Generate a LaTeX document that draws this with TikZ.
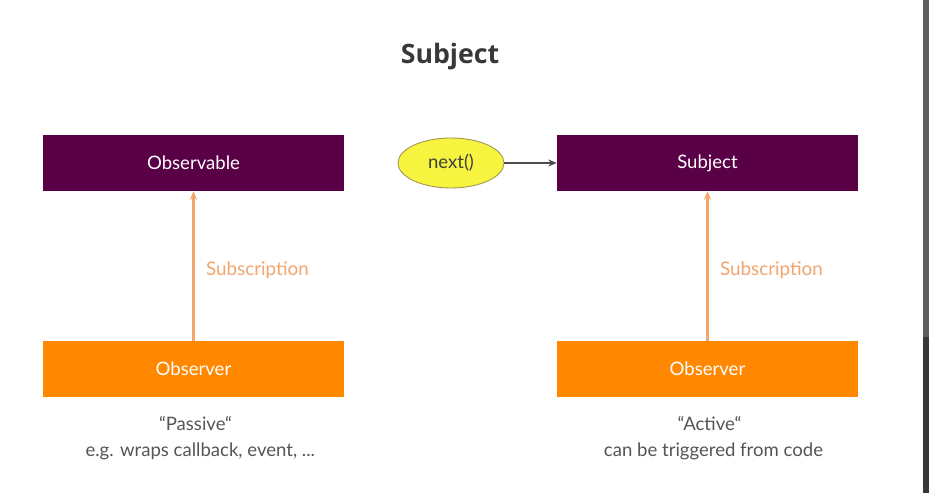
\documentclass[tikz,border=0pt]{standalone}
\usepackage{fontspec}
\setmainfont{Lato}
\newfontfamily\titlefont{Open Sans}
\usetikzlibrary{positioning,shapes.geometric,arrows.meta}
\definecolor{plum}{HTML}{5A0046}
\definecolor{tangerine}{HTML}{FF8800}
\definecolor{peach}{HTML}{F2A56E}
\definecolor{lemon}{HTML}{F6F43E}
\definecolor{olive}{HTML}{9E9250}
\definecolor{slate}{HTML}{555555}
\begin{document}
\begin{tikzpicture}[
  source/.style={rectangle, fill=plum, text=white, minimum width=7.525cm, minimum height=1.4cm, font=\fontsize{13.2}{16}\selectfont},
  watcher/.style={rectangle, fill=tangerine, text=white, minimum width=7.525cm, minimum height=1.4cm, font=\fontsize{13.2}{16}\selectfont},
  note/.style={text=slate, font=\fontsize{13.2}{16}\selectfont},
  subarrow/.style={-{Stealth[length=6pt,width=5pt]}, color=peach, line width=1.8pt},
  node distance=5.15cm
]
\useasboundingbox (0,0) rectangle (23.225,12.325);
\fill[white] (0,0) rectangle (23.225,12.325);
% screen edge
\fill[black!62!yellow!10!white!30!black] (23.075,3.9) rectangle (23.225,12.325);
\fill[black!78] (23.075,0) rectangle (23.225,3.9);

% Title
\node[text=black!78, font=\titlefont\bfseries\fontsize{19}{23}\selectfont] (title) at (11.25,10.92) {Subject};

% Left: plain observable
\node[source] (observable) at (4.8375,8.25) {Observable};
\node[watcher, below of=observable] (observerL) {Observer};
\node[note, below of=observerL, node distance=1.35cm, xshift=0.05cm] (passive) {“Passive“};
\node[note, below of=passive, node distance=0.72cm, xshift=0.12cm] (wraps) {e.g. wraps callback, event, ...};

% Right: subject
\node[source] (subject) at (17.6875,8.25) {Subject};
\node[watcher, below of=subject] (observerR) {Observer};
\node[note, below of=observerR, node distance=1.35cm, xshift=0.05cm] (active) {“Active“};
\node[note, below of=active, node distance=0.72cm, xshift=0.1cm] (trigger) {can be triggered from code};

% next() call
\node[ellipse, fill=lemon, draw=olive, line width=0.6pt, minimum width=2.65cm, minimum height=1.25cm, font=\fontsize{13.2}{16}\selectfont, text=black!75] (next) at (11.275,8.25) {next()};

% Arrows
\draw[-{Stealth[length=6pt,width=5pt]}, draw=black!70, line width=0.9pt] (next) -- (subject);
\draw[subarrow] (observerL) -- node[right, text=peach, font=\fontsize{13.4}{16}\selectfont, inner sep=8pt, pos=0.47] {Subscription} (observable);
\draw[subarrow] (observerR) -- node[right, text=peach, font=\fontsize{13.4}{16}\selectfont, inner sep=8pt, pos=0.47] {Subscription} (subject);

\end{tikzpicture}
\end{document}
